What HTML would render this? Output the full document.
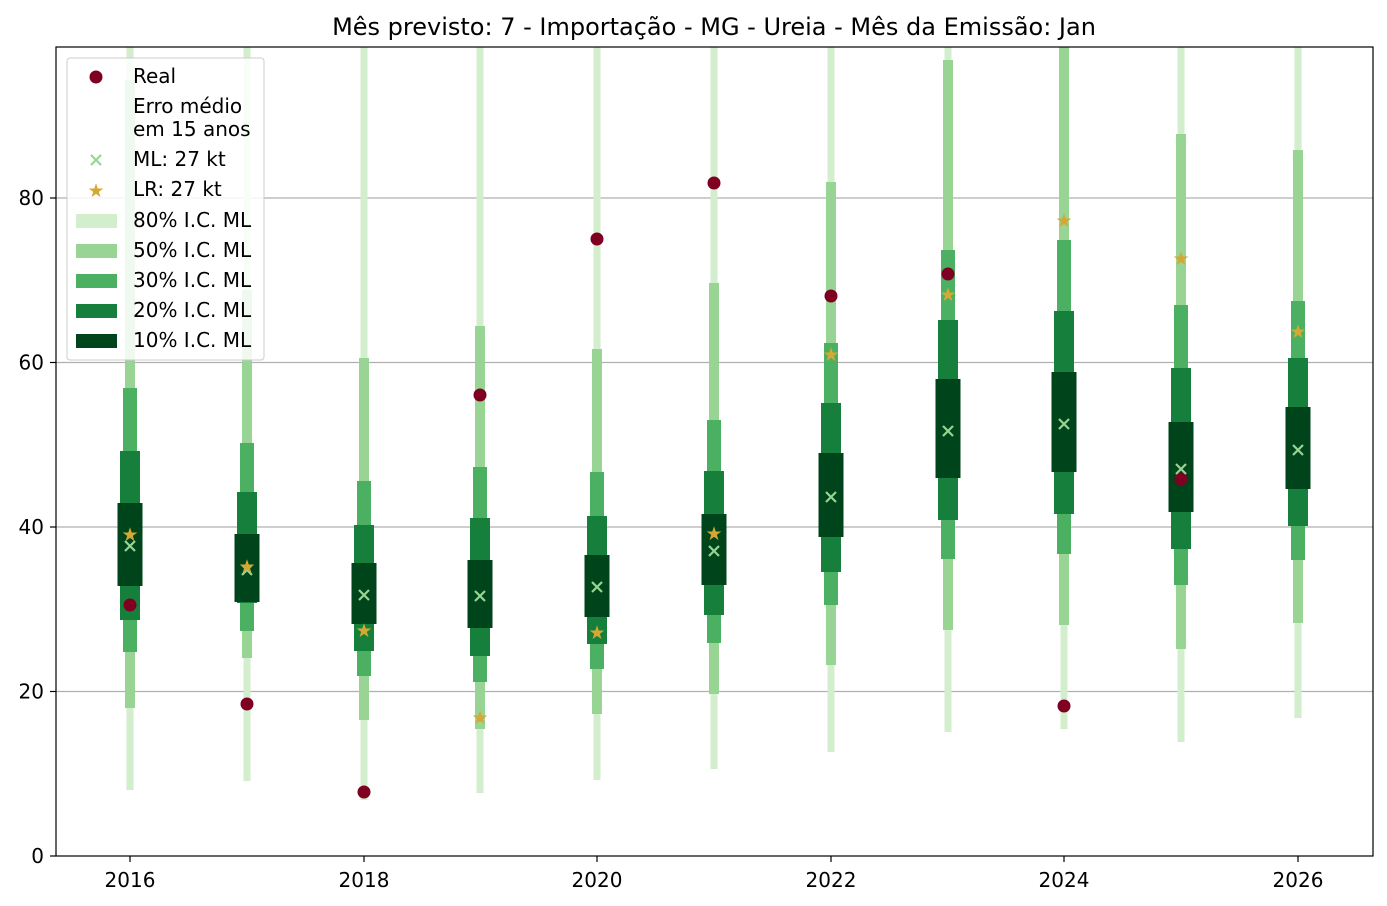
<!DOCTYPE html>
<html><head><meta charset="utf-8"><style>body{margin:0;background:#fff}svg{display:block;font-family:"DejaVu Sans","Liberation Sans",sans-serif}</style></head><body>
<svg width="1387" height="906" xmlns="http://www.w3.org/2000/svg">
<defs>
<g id="xm"><path d="M-5 -5L5 5M-5 5L5 -5" stroke="#98d594" stroke-width="2.2"/></g>
</defs>
<rect width="1387" height="906" fill="#fff"/>
<text x="714" y="35" font-size="24" text-anchor="middle" fill="#000">Mês previsto: 7 - Importação - MG - Ureia - Mês da Emissão: Jan</text>
<g stroke="#b0b0b0" stroke-width="1.2">
<line x1="56" x2="1373" y1="691.5" y2="691.5"/><line x1="56" x2="1373" y1="527" y2="527"/><line x1="56" x2="1373" y1="362.5" y2="362.5"/><line x1="56" x2="1373" y1="198" y2="198"/>
</g>

<g transform="translate(130,0)">
<rect x="-3.5" y="47" width="7" height="743" fill="#d3eecd"/>
<rect x="-5" y="80" width="10" height="628" fill="#98d594"/>
<rect x="-7" y="388" width="14" height="264" fill="#4bb062"/>
<rect x="-10" y="451" width="20" height="169" fill="#157f3b"/>
<rect x="-12.5" y="503" width="25" height="83" fill="#00441b"/>
<use href="#xm" y="546"/><text y="541" font-size="19" fill="#d4a832" text-anchor="middle">★</text><circle cy="605" r="6.5" fill="#7f0020"/>
</g>
<g transform="translate(247,0)">
<rect x="-3.5" y="47" width="7" height="734" fill="#d3eecd"/>
<rect x="-5" y="290" width="10" height="368" fill="#98d594"/>
<rect x="-7" y="443" width="14" height="188" fill="#4bb062"/>
<rect x="-10" y="492" width="20" height="111" fill="#157f3b"/>
<rect x="-12.5" y="534" width="25" height="68" fill="#00441b"/>
<use href="#xm" y="570"/><text y="573" font-size="19" fill="#d4a832" text-anchor="middle">★</text><circle cy="704" r="6.5" fill="#7f0020"/>
</g>
<g transform="translate(364,0)">
<rect x="-3.5" y="47" width="7" height="753" fill="#d3eecd"/>
<rect x="-5" y="358" width="10" height="362" fill="#98d594"/>
<rect x="-7" y="481" width="14" height="195" fill="#4bb062"/>
<rect x="-10" y="525" width="20" height="126" fill="#157f3b"/>
<rect x="-12.5" y="563" width="25" height="61" fill="#00441b"/>
<use href="#xm" y="595"/><text y="637" font-size="19" fill="#d4a832" text-anchor="middle">★</text><circle cy="792" r="6.5" fill="#7f0020"/>
</g>
<g transform="translate(480,0)">
<rect x="-3.5" y="47" width="7" height="746" fill="#d3eecd"/>
<rect x="-5" y="326" width="10" height="403" fill="#98d594"/>
<rect x="-7" y="467" width="14" height="215" fill="#4bb062"/>
<rect x="-10" y="518" width="20" height="138" fill="#157f3b"/>
<rect x="-12.5" y="560" width="25" height="68" fill="#00441b"/>
<use href="#xm" y="596"/><text y="724" font-size="19" fill="#d4a832" text-anchor="middle">★</text><circle cy="395" r="6.5" fill="#7f0020"/>
</g>
<g transform="translate(597,0)">
<rect x="-3.5" y="47" width="7" height="733" fill="#d3eecd"/>
<rect x="-5" y="349" width="10" height="365" fill="#98d594"/>
<rect x="-7" y="472" width="14" height="197" fill="#4bb062"/>
<rect x="-10" y="516" width="20" height="128" fill="#157f3b"/>
<rect x="-12.5" y="555" width="25" height="62" fill="#00441b"/>
<use href="#xm" y="587"/><text y="639" font-size="19" fill="#d4a832" text-anchor="middle">★</text><circle cy="239" r="6.5" fill="#7f0020"/>
</g>
<g transform="translate(714,0)">
<rect x="-3.5" y="47" width="7" height="722" fill="#d3eecd"/>
<rect x="-5" y="283" width="10" height="411" fill="#98d594"/>
<rect x="-7" y="420" width="14" height="223" fill="#4bb062"/>
<rect x="-10" y="471" width="20" height="144" fill="#157f3b"/>
<rect x="-12.5" y="514" width="25" height="71" fill="#00441b"/>
<use href="#xm" y="551"/><text y="540" font-size="19" fill="#d4a832" text-anchor="middle">★</text><circle cy="183" r="6.5" fill="#7f0020"/>
</g>
<g transform="translate(831,0)">
<rect x="-3.5" y="47" width="7" height="705" fill="#d3eecd"/>
<rect x="-5" y="182" width="10" height="483" fill="#98d594"/>
<rect x="-7" y="343" width="14" height="262" fill="#4bb062"/>
<rect x="-10" y="403" width="20" height="169" fill="#157f3b"/>
<rect x="-12.5" y="453" width="25" height="84" fill="#00441b"/>
<use href="#xm" y="497"/><text y="361" font-size="19" fill="#d4a832" text-anchor="middle">★</text><circle cy="296" r="6.5" fill="#7f0020"/>
</g>
<g transform="translate(948,0)">
<rect x="-3.5" y="47" width="7" height="685" fill="#d3eecd"/>
<rect x="-5" y="60" width="10" height="570" fill="#98d594"/>
<rect x="-7" y="250" width="14" height="309" fill="#4bb062"/>
<rect x="-10" y="320" width="20" height="200" fill="#157f3b"/>
<rect x="-12.5" y="379" width="25" height="99" fill="#00441b"/>
<use href="#xm" y="431"/><text y="301" font-size="19" fill="#d4a832" text-anchor="middle">★</text><circle cy="274" r="6.5" fill="#7f0020"/>
</g>
<g transform="translate(1064,0)">
<rect x="-3.5" y="47" width="7" height="682" fill="#d3eecd"/>
<rect x="-5" y="47" width="10" height="578" fill="#98d594"/>
<rect x="-7" y="240" width="14" height="314" fill="#4bb062"/>
<rect x="-10" y="311" width="20" height="203" fill="#157f3b"/>
<rect x="-12.5" y="372" width="25" height="100" fill="#00441b"/>
<use href="#xm" y="424"/><text y="227" font-size="19" fill="#d4a832" text-anchor="middle">★</text><circle cy="706" r="6.5" fill="#7f0020"/>
</g>
<g transform="translate(1181,0)">
<rect x="-3.5" y="47" width="7" height="695" fill="#d3eecd"/>
<rect x="-5" y="134" width="10" height="515" fill="#98d594"/>
<rect x="-7" y="305" width="14" height="280" fill="#4bb062"/>
<rect x="-10" y="368" width="20" height="181" fill="#157f3b"/>
<rect x="-12.5" y="422" width="25" height="90" fill="#00441b"/>
<circle cy="479" r="6.5" fill="#7f0020"/><use href="#xm" y="469"/><text y="265" font-size="19" fill="#d4a832" text-anchor="middle">★</text>
</g>
<g transform="translate(1298,0)">
<rect x="-3.5" y="47" width="7" height="671" fill="#d3eecd"/>
<rect x="-5" y="150" width="10" height="473" fill="#98d594"/>
<rect x="-7" y="301" width="14" height="259" fill="#4bb062"/>
<rect x="-10" y="358" width="20" height="168" fill="#157f3b"/>
<rect x="-12.5" y="407" width="25" height="82" fill="#00441b"/>
<use href="#xm" y="450"/><text y="338" font-size="19" fill="#d4a832" text-anchor="middle">★</text>
</g>

<rect x="56" y="47" width="1317" height="809" fill="none" stroke="#000" stroke-width="1.2"/>
<g font-size="20" fill="#000" text-anchor="end">
<text x="44" y="863">0</text><text x="44" y="698.5">20</text><text x="44" y="534">40</text><text x="44" y="369.5">60</text><text x="44" y="205">80</text>
</g>
<g stroke="#000" stroke-width="1.2">
<line x1="50" x2="56" y1="856" y2="856"/><line x1="50" x2="56" y1="691.5" y2="691.5"/><line x1="50" x2="56" y1="527" y2="527"/><line x1="50" x2="56" y1="362.5" y2="362.5"/><line x1="50" x2="56" y1="198" y2="198"/>
<line x1="130" x2="130" y1="856" y2="862"/><line x1="364" x2="364" y1="856" y2="862"/><line x1="597" x2="597" y1="856" y2="862"/><line x1="831" x2="831" y1="856" y2="862"/><line x1="1064" x2="1064" y1="856" y2="862"/><line x1="1298" x2="1298" y1="856" y2="862"/>
</g>
<g font-size="20" fill="#000" text-anchor="middle">
<text x="130" y="887">2016</text><text x="364" y="887">2018</text><text x="597" y="887">2020</text><text x="831" y="887">2022</text><text x="1064" y="887">2024</text><text x="1298" y="887">2026</text>
</g>
<g font-size="20">
<rect x="67" y="58" width="197" height="302" rx="3" fill="#fff" fill-opacity="0.85" stroke="#ccc"/>
<circle cx="96" cy="77" r="6.5" fill="#7f0020"/>
<text x="133" y="83">Real</text>
<text x="133" y="113">Erro médio</text>
<text x="133" y="136">em 15 anos</text>
<use href="#xm" x="96" y="160"/>
<text x="133" y="166">ML: 27 kt</text>
<text x="96" y="197" font-size="19" fill="#d4a832" text-anchor="middle">★</text>
<text x="133" y="196">LR: 27 kt</text>
<rect x="76" y="214" width="41" height="14" fill="#d3eecd"/><text x="133" y="227">80% I.C. ML</text>
<rect x="76" y="244" width="41" height="14" fill="#98d594"/><text x="133" y="257">50% I.C. ML</text>
<rect x="76" y="274" width="41" height="14" fill="#4bb062"/><text x="133" y="287">30% I.C. ML</text>
<rect x="76" y="304" width="41" height="14" fill="#157f3b"/><text x="133" y="317">20% I.C. ML</text>
<rect x="76" y="334" width="41" height="14" fill="#00441b"/><text x="133" y="347">10% I.C. ML</text>
</g>
</svg>
</body></html>
